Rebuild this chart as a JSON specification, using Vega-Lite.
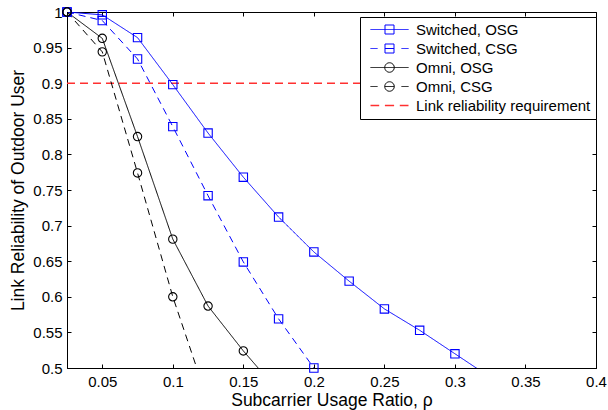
{
  "$schema": "https://vega.github.io/schema/vega-lite/v6.json",
  "width": 529,
  "height": 356,
  "autosize": "none",
  "padding": {"left": 67, "top": 12, "right": 12, "bottom": 42},
  "background": "white",
  "config": {
    "font": "Liberation Sans",
    "view": {"stroke": "black", "strokeWidth": 1},
    "axis": {
      "grid": false,
      "domainColor": "black",
      "tickColor": "black",
      "labelColor": "black",
      "titleColor": "black",
      "labelFont": "Liberation Sans",
      "titleFont": "Liberation Sans",
      "titleFontWeight": "normal",
      "labelFlush": false,
      "labelOverlap": false
    }
  },
  "data": {
    "values": [
      {"rho": 0.025, "rel": 1.0, "series": "Switched, OSG"},
      {"rho": 0.05, "rel": 0.996, "series": "Switched, OSG"},
      {"rho": 0.075, "rel": 0.964, "series": "Switched, OSG"},
      {"rho": 0.1, "rel": 0.898, "series": "Switched, OSG"},
      {"rho": 0.125, "rel": 0.830, "series": "Switched, OSG"},
      {"rho": 0.15, "rel": 0.768, "series": "Switched, OSG"},
      {"rho": 0.175, "rel": 0.712, "series": "Switched, OSG"},
      {"rho": 0.2, "rel": 0.663, "series": "Switched, OSG"},
      {"rho": 0.225, "rel": 0.622, "series": "Switched, OSG"},
      {"rho": 0.25, "rel": 0.583, "series": "Switched, OSG"},
      {"rho": 0.275, "rel": 0.553, "series": "Switched, OSG"},
      {"rho": 0.3, "rel": 0.520, "series": "Switched, OSG"},
      {"rho": 0.325, "rel": 0.487, "series": "Switched, OSG"},
      {"rho": 0.025, "rel": 1.0, "series": "Switched, CSG"},
      {"rho": 0.05, "rel": 0.988, "series": "Switched, CSG"},
      {"rho": 0.075, "rel": 0.934, "series": "Switched, CSG"},
      {"rho": 0.1, "rel": 0.839, "series": "Switched, CSG"},
      {"rho": 0.125, "rel": 0.742, "series": "Switched, CSG"},
      {"rho": 0.15, "rel": 0.649, "series": "Switched, CSG"},
      {"rho": 0.175, "rel": 0.569, "series": "Switched, CSG"},
      {"rho": 0.2, "rel": 0.5, "series": "Switched, CSG"},
      {"rho": 0.025, "rel": 1.0, "series": "Omni, OSG"},
      {"rho": 0.05, "rel": 0.963, "series": "Omni, OSG"},
      {"rho": 0.075, "rel": 0.825, "series": "Omni, OSG"},
      {"rho": 0.1, "rel": 0.681, "series": "Omni, OSG"},
      {"rho": 0.125, "rel": 0.587, "series": "Omni, OSG"},
      {"rho": 0.15, "rel": 0.524, "series": "Omni, OSG"},
      {"rho": 0.175, "rel": 0.467, "series": "Omni, OSG"},
      {"rho": 0.025, "rel": 1.0, "series": "Omni, CSG"},
      {"rho": 0.05, "rel": 0.944, "series": "Omni, CSG"},
      {"rho": 0.075, "rel": 0.774, "series": "Omni, CSG"},
      {"rho": 0.1, "rel": 0.600, "series": "Omni, CSG"},
      {"rho": 0.125, "rel": 0.453, "series": "Omni, CSG"},
      {"rho": 0.025, "rel": 0.9, "series": "Link reliability requirement"},
      {"rho": 0.4, "rel": 0.9, "series": "Link reliability requirement"}
    ]
  },
  "resolve": {"axis": {"x": "independent", "y": "independent"}},
  "layer": [
    {
      "transform": [{"filter": "datum.series === 'Link reliability requirement'"}],
      "mark": {"type": "line", "strokeWidth": 1.5, "strokeDash": [8, 5], "clip": true},
      "encoding": {
        "x": {"field": "rho", "type": "quantitative", "scale": {"domain": [0.025, 0.4], "nice": false, "zero": false}, "axis": null},
        "y": {"field": "rel", "type": "quantitative", "scale": {"domain": [0.5, 1], "nice": false, "zero": false}, "axis": null},
        "color": {"field": "series", "type": "nominal"}
      }
    },
    {
      "transform": [{"filter": "datum.series !== 'Link reliability requirement'"}],
      "mark": {"type": "line", "strokeWidth": 1, "clip": true},
      "encoding": {
        "x": {
          "field": "rho", "type": "quantitative",
          "scale": {"domain": [0.025, 0.4], "nice": false, "zero": false},
          "axis": {
            "orient": "bottom",
            "values": [0.05, 0.1, 0.15, 0.2, 0.25, 0.3, 0.35, 0.4],
            "format": "~g",
            "tickSize": -4,
            "labelPadding": 10,
            "labelFontSize": 15,
            "title": "Subcarrier Usage Ratio, ρ",
            "titleFontSize": 17.5,
            "titlePadding": 2
          }
        },
        "y": {
          "field": "rel", "type": "quantitative",
          "scale": {"domain": [0.5, 1], "nice": false, "zero": false},
          "axis": {
            "orient": "left",
            "values": [0.5, 0.55, 0.6, 0.65, 0.7, 0.75, 0.8, 0.85, 0.9, 0.95, 1],
            "format": "~g",
            "tickSize": -4,
            "labelPadding": 9,
            "labelFontSize": 15,
            "title": "Link Reliability of Outdoor User",
            "titleFontSize": 17.5,
            "titlePadding": 5
          }
        },
        "color": {
          "field": "series", "type": "nominal",
          "scale": {
            "domain": ["Switched, OSG", "Switched, CSG", "Omni, OSG", "Omni, CSG", "Link reliability requirement"],
            "range": ["#0000ff", "#0000ff", "#000000", "#000000", "#ff3030"]
          },
          "legend": {
            "title": null,
            "orient": "none",
            "legendX": 293,
            "legendY": 5,
            "strokeColor": "black",
            "fillColor": "white",
            "padding": 5,
            "cornerRadius": 0,
            "labelFontSize": 15,
            "labelFont": "Liberation Sans",
            "labelColor": "black",
            "labelLimit": 400,
            "labelOffset": 36,
            "rowPadding": 3,
            "symbolSize": 100,
            "symbolStrokeWidth": 1,
            "encode": {
              "symbols": {
                "update": {
                  "shape": {"signal": "datum.value === 'Switched, OSG' ? 'M-0.4,0H7.2M2.5,-0.9H4.3V0.9H2.5Z' : datum.value === 'Switched, CSG' ? 'M-0.4,0H1M2.5,0H4.3M5.8,0H7.2M2.5,-0.9H4.3V0.9H2.5Z' : datum.value === 'Omni, OSG' ? 'M-0.4,0H7.2M2.45,0A0.95,0.95 0 1,0 4.35,0A0.95,0.95 0 1,0 2.45,0Z' : datum.value === 'Omni, CSG' ? 'M-0.4,0H1M2.45,0H4.35M5.8,0H7.2M2.45,0A0.95,0.95 0 1,0 4.35,0A0.95,0.95 0 1,0 2.45,0Z' : 'M-0.4,0H1.34M2.48,0H4.32M5.46,0H7.2'"},
                  "fill": {"value": "transparent"},
                  "strokeDash": {"value": [1, 0]},
                  "strokeWidth": {"signal": "datum.value === 'Link reliability requirement' ? 1.5 : 1"}
                }
              }
            }
          }
        },
        "strokeDash": {
          "field": "series", "type": "nominal",
          "scale": {
            "domain": ["Switched, OSG", "Switched, CSG", "Omni, OSG", "Omni, CSG"],
            "range": [[1, 0], [7, 5], [1, 0], [7, 5]]
          },
          "legend": null
        }
      }
    },
    {
      "transform": [
        {"filter": "datum.series !== 'Link reliability requirement' && datum.rel >= 0.5"}
      ],
      "mark": {"type": "point", "filled": false, "strokeWidth": 1.1, "opacity": 1},
      "encoding": {
        "x": {
          "field": "rho", "type": "quantitative",
          "scale": {"domain": [0.025, 0.4], "nice": false, "zero": false},
          "axis": {
            "orient": "top",
            "values": [0.05, 0.1, 0.15, 0.2, 0.25, 0.3, 0.35, 0.4],
            "tickSize": -4,
            "labels": false,
            "domain": false,
            "title": null
          }
        },
        "y": {
          "field": "rel", "type": "quantitative",
          "scale": {"domain": [0.5, 1], "nice": false, "zero": false},
          "axis": {
            "orient": "right",
            "values": [0.5, 0.55, 0.6, 0.65, 0.7, 0.75, 0.8, 0.85, 0.9, 0.95, 1],
            "tickSize": -4,
            "labels": false,
            "domain": false,
            "title": null
          }
        },
        "color": {"field": "series", "type": "nominal"},
        "shape": {
          "field": "series", "type": "nominal",
          "scale": {
            "domain": ["Switched, OSG", "Switched, CSG", "Omni, OSG", "Omni, CSG"],
            "range": ["square", "square", "circle", "circle"]
          },
          "legend": null
        },
        "size": {"value": 70}
      }
    }
  ]
}
